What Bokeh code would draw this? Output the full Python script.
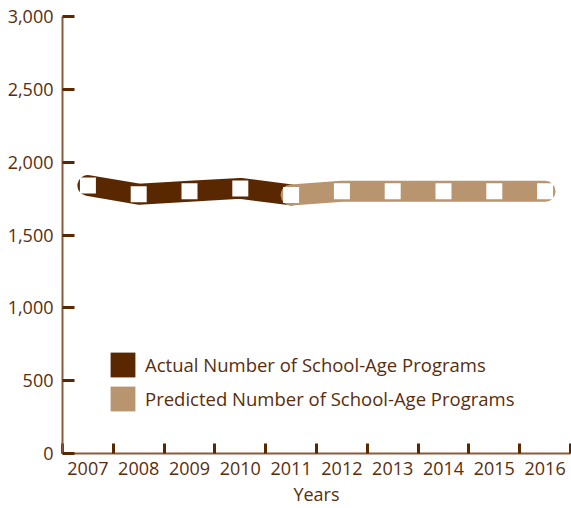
from bokeh.plotting import figure
from bokeh.models import Range1d, FixedTicker, NumeralTickFormatter, Legend, LegendItem
from bokeh.embed import file_html
from bokeh.resources import INLINE

years = [2007, 2008, 2009, 2010, 2011, 2012, 2013, 2014, 2015, 2016]
actual_years = [2007, 2008, 2009, 2010, 2011]
actual_values = [1840, 1780, 1800, 1820, 1775]
predicted_years = [2011, 2012, 2013, 2014, 2015, 2016]
predicted_values = [1775, 1800, 1800, 1800, 1800, 1800]
y_ticks = [0, 500, 1000, 1500, 2000, 2500, 3000]
legend_labels = ["Actual Number of School-Age Programs",
                 "Predicted Number of School-Age Programs"]

DARK = "#592800"
LIGHT = "#b8946f"
TEXT = "#5a2d0c"
AXIS = "#8b5a3c"
FONT = "Open Sans"
NAN = float("nan")

p = figure(width=571, height=508,
           x_range=Range1d(years[0] - 0.5, years[-1] + 0.5),
           y_range=Range1d(y_ticks[0], y_ticks[-1]),
           output_backend="svg", toolbar_location=None,
           min_border_left=62, min_border_right=1,
           min_border_top=16, min_border_bottom=54)
p.outline_line_color = None
p.grid.visible = False
p.background_fill_color = "white"

p.line(actual_years, actual_values, line_width=21, line_color=DARK,
       line_cap="round", line_join="round")
p.line(predicted_years, predicted_values, line_width=21, line_color=LIGHT,
       line_cap="round", line_join="round")
marker_years = actual_years + predicted_years[1:]
marker_values = actual_values + predicted_values[1:]
p.scatter(marker_years, marker_values, marker="square", size=16,
          fill_color="white", line_color=None)

r1 = p.quad(left=[NAN], right=[NAN], top=[NAN], bottom=[NAN], fill_color=DARK, line_color=None)
r2 = p.quad(left=[NAN], right=[NAN], top=[NAN], bottom=[NAN], fill_color=LIGHT, line_color=None)
legend = Legend(items=[LegendItem(label=legend_labels[0], renderers=[r1]),
                       LegendItem(label=legend_labels[1], renderers=[r2])],
                location=(45, 39), padding=0, margin=0, spacing=3,
                glyph_width=31, glyph_height=31, label_height=31,
                label_standoff=7, border_line_color=None,
                background_fill_alpha=0,
                label_text_font=FONT, label_text_font_size="18.5px",
                label_text_color=TEXT)
p.add_layout(legend, "center")

xa = p.xaxis[0]
xa.ticker = FixedTicker(ticks=years, minor_ticks=[y - 0.5 for y in years] + [years[-1] + 0.5])
xa.major_tick_in = 0
xa.major_tick_out = 0
xa.minor_tick_in = 10
xa.minor_tick_out = 0
xa.minor_tick_line_width = 3
xa.minor_tick_line_color = DARK
xa.axis_line_color = AXIS
xa.axis_line_width = 2
xa.major_label_text_font = FONT
xa.major_label_text_font_size = "18px"
xa.major_label_text_color = TEXT
xa.major_label_standoff = 8
xa.axis_label = "Years"
xa.axis_label_text_font = FONT
xa.axis_label_text_font_size = "18px"
xa.axis_label_text_font_style = "normal"
xa.axis_label_text_color = TEXT
xa.axis_label_standoff = 4

ya = p.yaxis[0]
ya.ticker = FixedTicker(ticks=y_ticks, minor_ticks=[])
ya.formatter = NumeralTickFormatter(format="0,0")
ya.major_tick_in = 12
ya.major_tick_out = 0
ya.major_tick_line_width = 3
ya.major_tick_line_color = DARK
ya.minor_tick_in = 0
ya.minor_tick_out = 0
ya.axis_line_color = AXIS
ya.axis_line_width = 2
ya.major_label_text_font = FONT
ya.major_label_text_font_size = "18px"
ya.major_label_text_color = TEXT
ya.major_label_standoff = 9

open("out.html", "w").write(file_html(p, INLINE))
